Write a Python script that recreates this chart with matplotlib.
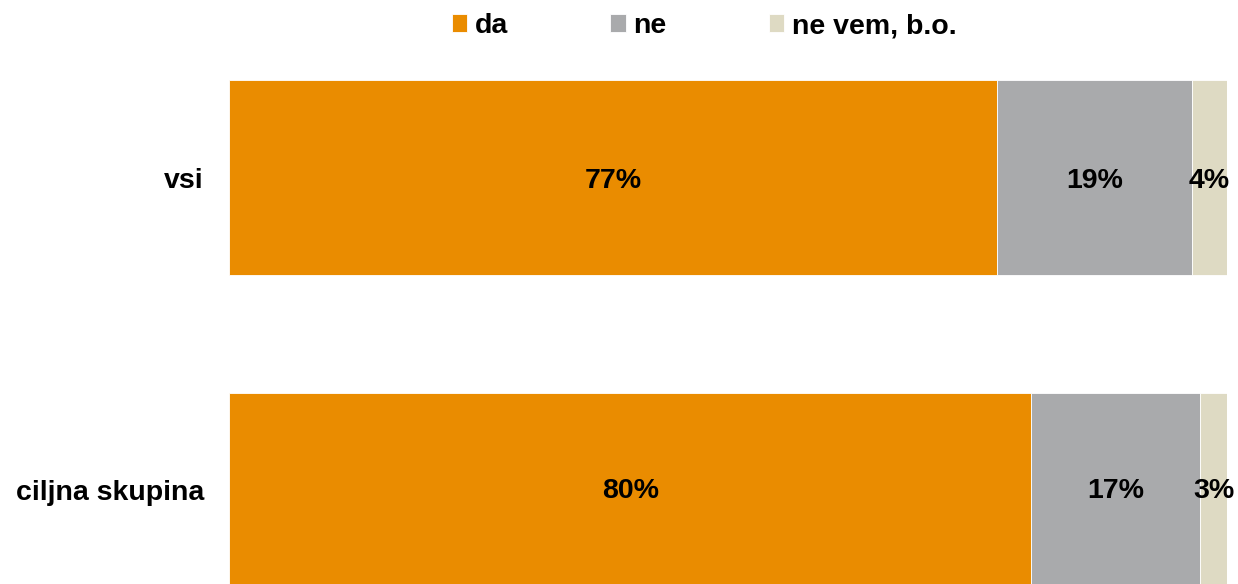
import matplotlib.pyplot as plt
import numpy as np

plt.rcParams['font.family'] = ['Liberation Sans', 'DejaVu Sans']

# data
groups = ['ciljna skupina', 'vsi']
series = ['da', 'ne', 'ne vem, b.o.']
da = [80.4, 77.0]
ne = [16.9, 19.5]
nevem = [2.7, 3.5]
labels_da = ['80%', '77%']
labels_ne = ['17%', '19%']
labels_nevem = ['3%', '4%']
colors = ['#EA8C00', '#A9AAAC', '#DEDAC3']

fig = plt.figure(figsize=(12.38, 5.84), dpi=100)
ax = fig.add_axes([229 / 1238, 0, 998 / 1238, 504 / 584])

y = np.arange(len(groups))
left = np.zeros(len(groups))
for vals, labs, name, col in zip([da, ne, nevem], [labels_da, labels_ne, labels_nevem], series, colors):
    bars = ax.barh(y, vals, left=left, height=0.624, color=col, label=name,
                   edgecolor='white', linewidth=0.6)
    txts = ax.bar_label(bars, labels=labs, label_type='center', fontsize=20.5,
                        fontweight='bold', color='black')
    for t in txts:
        t.set_va('center_baseline')
    left = left + np.array(vals)

ax.set_xlim(0, 100)
ax.set_ylim(-0.3008, 1.312)
ax.set_yticks(y)
ax.set_yticklabels(groups, fontsize=20.5, fontweight='bold', va='center_baseline')
ax.tick_params(axis='y', length=0, pad=18)
ax.set_xticks([])
for s in ax.spines.values():
    s.set_visible(False)

fig.legend(loc='center', bbox_to_anchor=(704 / 1238, 1 - 26 / 584), ncol=3,
           frameon=False, handlelength=0.55, handleheight=0.55, handletextpad=0.25,
           columnspacing=3.6, prop={'size': 20.5, 'weight': 'bold'})

fig.savefig('out.png', dpi=100)
